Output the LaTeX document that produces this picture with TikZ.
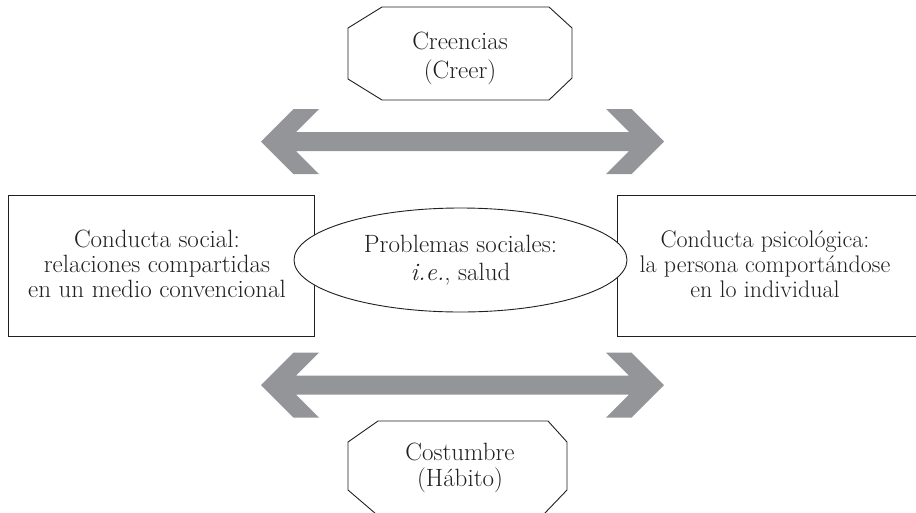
\documentclass[tikz,border=0pt]{standalone}
\usetikzlibrary{shapes.geometric,calc}
\definecolor{arrowgray}{RGB}{147,149,152}
\definecolor{linedark}{RGB}{35,31,32}
\begin{document}
\begin{tikzpicture}[x=1pt,y=-1pt,
  txt/.style={align=center,text=linedark,inner sep=0pt,font=\fontsize{25}{25}\selectfont},
  boxline/.style={draw=linedark,line width=0.9pt},
  grayarrow/.style={fill=arrowgray,draw=none}]
\useasboundingbox (0,0) rectangle (916,512);
\clip (0,0) rectangle (916,512);

% octagons
\draw[boxline] (382,7) -- (549,7) -- (572,28) -- (572,78) -- (549,100) -- (382,100) -- (348,79) -- (348,28) -- cycle;
\node[txt,font=\fontsize{25}{29}\selectfont] (creencias) at (460,58) {Creencias\\(Creer)};

\draw[boxline] (378,421) -- (548,421) -- (567,442) -- (567,490) -- (544,514) -- (376,514) -- (348,490) -- (348,442) -- cycle;
\node[txt,font=\fontsize{25}{26}\selectfont] (costumbre) at (460,468) {Costumbre\\(Hábito)};

% boxes
\draw[boxline] (8,195) rectangle (314,336);
\node[txt] (social) at (157,264) {Conducta social:\\relaciones compartidas\\en un medio convencional};
\draw[boxline] (617,195) rectangle (930,336);
\node[txt,font=\fontsize{24}{25}\selectfont] (psico) at (765,264) {Conducta psicológica:\\la persona comportándose\\en lo individual};

% ellipse
\node[ellipse,boxline,fill=white,minimum width=333pt,minimum height=104pt,inner sep=0pt] (problemas) at (460.5,260) {};
\node[txt,font=\fontsize{25}{28}\selectfont] (ptext) at (problemas.center) {Problemas sociales:\\\textit{i.e.}, salud};

% double arrows
\foreach \cy/\nm in {141.5/top,385/bot}{
  \coordinate (\nm L) at (261,\cy);
  \coordinate (\nm R) at (664,\cy);
  \fill[grayarrow] (\nm L) -- ++(32.5,-32.5) -- ++(25.5,0) -- ++(-23,23)
    -- ($(\nm R)+(-35,-9.5)$) -- ++(-23,-23) -- ++(25.5,0) -- (\nm R)
    -- ++(-32.5,32.5) -- ++(-25.5,0) -- ++(23,-23)
    -- ($(\nm L)+(35,9.5)$) -- ++(23,23) -- ++(-25.5,0) -- cycle;
}
\end{tikzpicture}
\end{document}
